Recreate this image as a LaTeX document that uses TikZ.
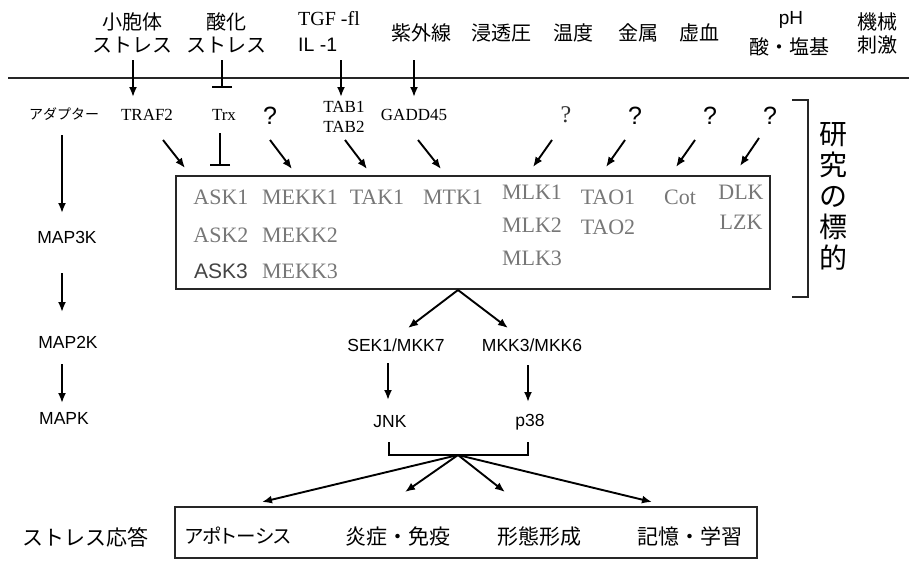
\documentclass[tikz,border=0pt]{standalone}
\usepackage{fontspec}
\setmainfont{Liberation Serif}
\setsansfont{Liberation Sans}
\newfontfamily\jpfont{Noto Sans CJK JP}
\newfontfamily\jppalt[RawFeature=+palt]{Noto Sans CJK JP}
\usetikzlibrary{arrows.meta}
\definecolor{genegray}{HTML}{777777}
\definecolor{genedark}{HTML}{444444}
\tikzset{
  lbl/.style={inner sep=0pt, align=center},
  jptop/.style={lbl, font=\jpfont\fontsize{20}{23}\selectfont},
  jpbox/.style={lbl, font=\jpfont\fontsize{21}{24}\selectfont},
  jpsmall/.style={lbl, font=\jpfont\fontsize{14}{16}\selectfont},
  serlbl/.style={lbl, font=\rmfamily\fontsize{17}{20}\selectfont},
  sanslbl/.style={lbl, font=\sffamily\fontsize{17.5}{20}\selectfont},
  gene/.style={lbl, text=genegray, font=\rmfamily\fontsize{22}{26}\selectfont},
  genesans/.style={lbl, text=genedark, font=\sffamily\fontsize{21}{26}\selectfont},
  qsans/.style={lbl, font=\sffamily\fontsize{25}{28}\selectfont},
  qser/.style={lbl, font=\rmfamily\fontsize{24}{28}\selectfont, text=black!80},
  arr/.style={-{Latex[length=10pt,width=8pt]}, line width=1.9pt},
  inh/.style={-{Bar[width=20pt,line width=2pt]}, line width=1.9pt},
  frame/.style={line width=1.8pt, draw=black!85},
}
\begin{document}
\begin{tikzpicture}[x=1pt,y=-1pt]
\useasboundingbox (0,0) rectangle (909,560);

% ---------- top stimuli ----------
\node[jptop] (s1) at (132,33) {小胞体\\ストレス};
\node[jptop] (s2) at (226,33) {酸化\\ストレス};
\node[lbl, anchor=west, font=\rmfamily\fontsize{20}{24}\selectfont] (s3a) at (298,19) {TGF -fl};
\node[lbl, anchor=west, font=\sffamily\fontsize{19.5}{24}\selectfont] (s3b) at (298,45) {IL -1};
\node[jptop] (s4) at (421,33) {紫外線};
\node[jptop] (s5) at (501,33) {浸透圧};
\node[jptop] (s6) at (573,33) {温度};
\node[jptop] (s7) at (638,33) {金属};
\node[jptop] (s8) at (699,33) {虚血};
\node[lbl, font=\sffamily\fontsize{19}{22}\selectfont] (s9a) at (791,20) {pH};
\node[jptop] (s9b) at (789,47) {酸・塩基};
\node[jptop] (s10) at (877,33) {機械\\刺激};

% membrane line
\coordinate (ml) at (8,78);
\coordinate (mr) at (909,78);
\draw[line width=1.4pt, black!85] (ml) -- (mr);

% arrows across membrane
\coordinate (t1a) at (133,60); \coordinate (t1b) at (133,97);
\coordinate (t2a) at (222,60); \coordinate (t2b) at (222,88);
\coordinate (t3a) at (341,60); \coordinate (t3b) at (341,97);
\coordinate (t4a) at (414,60); \coordinate (t4b) at (414,97);
\draw[arr] (t1a) -- (t1b);
\draw[inh] (t2a) -- (t2b);
\draw[arr] (t3a) -- (t3b);
\draw[arr] (t4a) -- (t4b);

% ---------- adaptor row ----------
\node[jpsmall] (adp) at (64,114) {アダプター};
\node[serlbl] (traf) at (147,115) {TRAF2};
\node[serlbl] (trx) at (224,115) {Trx};
\node[qsans] (q1) at (270,116) {?};
\node[serlbl] (tab) at (344,117) {TAB1\\TAB2};
\node[serlbl] (gadd) at (414,115) {GADD45};
\node[qser] (q2) at (566,115) {?};
\node[qsans] (q3) at (635,116) {?};
\node[qsans] (q4) at (710,116) {?};
\node[qsans] (q5) at (770,116) {?};

% diagonal arrows into the box
\coordinate (d1a) at (163,140); \coordinate (d1b) at (185,168);
\coordinate (d2a) at (220,133); \coordinate (d2b) at (220,166);
\coordinate (d3a) at (270,140); \coordinate (d3b) at (292,169);
\coordinate (d4a) at (345,140); \coordinate (d4b) at (367,169);
\coordinate (d5a) at (418,140); \coordinate (d5b) at (441,169);
\coordinate (d6a) at (552,140); \coordinate (d6b) at (533,167);
\coordinate (d7a) at (625,140); \coordinate (d7b) at (606,167);
\coordinate (d8a) at (695,140); \coordinate (d8b) at (676,167);
\coordinate (d9a) at (759,138); \coordinate (d9b) at (740,166);
\draw[arr] (d1a) -- (d1b);
\draw[inh] (d2a) -- (d2b);
\draw[arr] (d3a) -- (d3b);
\draw[arr] (d4a) -- (d4b);
\draw[arr] (d5a) -- (d5b);
\draw[arr] (d6a) -- (d6b);
\draw[arr] (d7a) -- (d7b);
\draw[arr] (d8a) -- (d8b);
\draw[arr] (d9a) -- (d9b);

% ---------- MAP3K box ----------
\coordinate (bx1) at (176,176);
\coordinate (bx2) at (770,289);
\draw[frame] (bx1) rectangle (bx2);
\coordinate (apex) at (458,290);

\node[gene] (ask1) at (221,197) {ASK1};
\node[gene] (ask2) at (221,235) {ASK2};
\node[genesans] (ask3) at (221,271) {ASK3};
\node[gene] (mekk1) at (300,197) {MEKK1};
\node[gene] (mekk2) at (300,235) {MEKK2};
\node[gene] (mekk3) at (300,271) {MEKK3};
\node[gene] (tak1) at (377,197) {TAK1};
\node[gene] (mtk1) at (453,197) {MTK1};
\node[gene] (mlk1) at (532,192) {MLK1};
\node[gene] (mlk2) at (532,225) {MLK2};
\node[gene] (mlk3) at (532,258) {MLK3};
\node[gene] (tao1) at (608,197) {TAO1};
\node[gene] (tao2) at (608,227) {TAO2};
\node[gene] (cot) at (680,197) {Cot};
\node[gene] (dlk) at (741,192) {DLK};
\node[gene] (lzk) at (741,222) {LZK};

% bracket "research target"
\coordinate (br1) at (792,100);
\coordinate (br2) at (808,100);
\coordinate (br3) at (808,297);
\coordinate (br4) at (792,297);
\draw[line width=1.6pt, black!85] (br1) -- (br2) -- (br3) -- (br4);
\node[lbl, font=\jpfont\fontsize{28}{31}\selectfont] (target) at (833,196) {研\\究\\の\\標\\的};

% ---------- left column ----------
\node[sanslbl] (map3k) at (67,237) {MAP3K};
\node[sanslbl] (map2k) at (68,342) {MAP2K};
\node[sanslbl] (mapk) at (64,418) {MAPK};
\coordinate (l1a) at (62,135); \coordinate (l1b) at (62,213);
\coordinate (l2a) at (62,273); \coordinate (l2b) at (62,312);
\coordinate (l3a) at (62,364); \coordinate (l3b) at (62,403);
\draw[arr] (l1a) -- (l1b);
\draw[arr] (l2a) -- (l2b);
\draw[arr] (l3a) -- (l3b);

% ---------- MAP2K / MAPK ----------
\node[sanslbl] (sek) at (396,345) {SEK1/MKK7};
\node[sanslbl] (mkk) at (532,345) {MKK3/MKK6};
\node[sanslbl] (jnk) at (390,422) {JNK};
\node[sanslbl] (p38) at (530,422) {p38};
\coordinate (m1) at (408,328);
\coordinate (m2) at (508,328);
\draw[arr] (apex) -- (m1);
\draw[arr] (apex) -- (m2);
\coordinate (v1a) at (388,363); \coordinate (v1b) at (388,400);
\coordinate (v2a) at (528,365); \coordinate (v2b) at (528,402);
\draw[arr] (v1a) -- (v1b);
\draw[arr] (v2a) -- (v2b);

% bracket joining JNK and p38
\coordinate (j1) at (389,442);
\coordinate (j2) at (389,455);
\coordinate (j3) at (528,455);
\coordinate (j4) at (528,442);
\draw[line width=2pt] (j1) -- (j2) -- (j3) -- (j4);
\coordinate (apex2) at (458,455);
\coordinate (r1) at (262,502);
\coordinate (r2) at (405,492);
\coordinate (r3) at (505,492);
\coordinate (r4) at (652,502);
\draw[arr] (apex2) -- (r1);
\draw[arr] (apex2) -- (r2);
\draw[arr] (apex2) -- (r3);
\draw[arr] (apex2) -- (r4);

% ---------- responses ----------
\coordinate (rb1) at (175,507);
\coordinate (rb2) at (757,558);
\draw[frame] (rb1) rectangle (rb2);
\node[jpbox] (stress) at (85,537) {ストレス応答};
\node[jpbox, font=\jppalt\fontsize{19.5}{24}\selectfont] (apo) at (238,536) {アポトーシス};
\node[jpbox] (infl) at (398,536) {炎症・免疫};
\node[jpbox] (morph) at (539,537) {形態形成};
\node[jpbox] (mem) at (690,536) {記憶・学習};
\end{tikzpicture}
\end{document}
